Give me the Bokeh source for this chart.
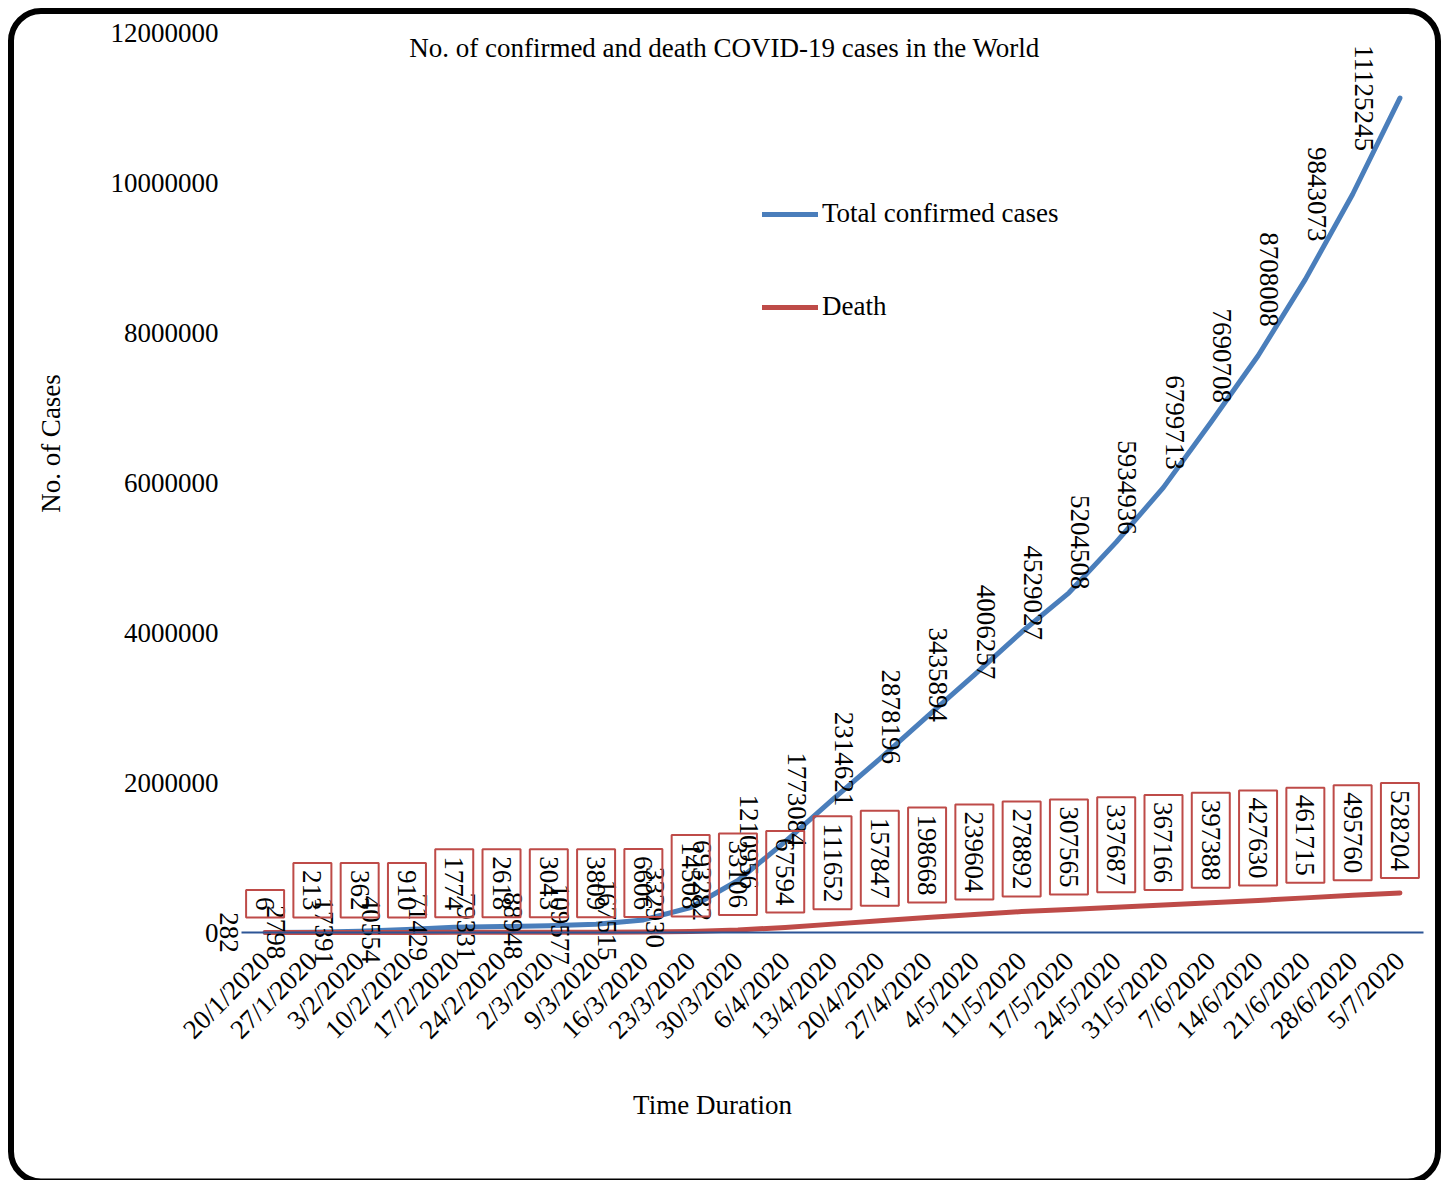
import math

from bokeh.core.properties import value
from bokeh.embed import file_html
from bokeh.models import (BasicTickFormatter, BoxAnnotation, ColumnDataSource, FixedTicker,
                          Label, Legend, LegendItem, LinearAxis, Range1d)
from bokeh.plotting import figure
from bokeh.resources import INLINE

# Weekly world totals
dates = ["20/1/2020", "27/1/2020", "3/2/2020", "10/2/2020", "17/2/2020", "24/2/2020",
         "2/3/2020", "9/3/2020", "16/3/2020", "23/3/2020", "30/3/2020", "6/4/2020",
         "13/4/2020", "20/4/2020", "27/4/2020", "4/5/2020", "11/5/2020", "17/5/2020",
         "24/5/2020", "31/5/2020", "7/6/2020", "14/6/2020", "21/6/2020", "28/6/2020",
         "5/7/2020"]
confirmed = [282, 2798, 17391, 40554, 71429, 79331, 88948, 109577, 167515, 332930,
             693282, 1210956, 1773084, 2314621, 2878196, 3435894, 4006257, 4529027,
             5204508, 5934936, 6799713, 7690708, 8708008, 9843073, 11125245]
deaths = [6, 213, 362, 910, 1774, 2618, 3043, 3809, 6606, 14508, 33106, 67594, 111652,
          157847, 198668, 239604, 278892, 307565, 337687, 367166, 397388, 427630, 461715,
          495760, 528204]
y_ticks = [0, 2000000, 4000000, 6000000, 8000000, 10000000, 12000000]

FONT = "Liberation Serif"
FS = "27px"
BLUE = "#4A7EBB"
RED = "#BE4B48"
AXIS_BLUE = "#2C5596"

W, H = 1445, 1180
idx = list(range(len(dates)))

src = ColumnDataSource(dict(
    i=idx,
    confirmed=confirmed,
    deaths=deaths,
    conf_txt=[str(v) for v in confirmed],
    death_txt=[str(v) for v in deaths],
))

# The frame fills the whole canvas; axes sit inside it at fixed locations
p = figure(width=W, height=H,
           x_range=Range1d(-5.596, 24.964), y_range=Range1d(-3306667, 12426667),
           x_axis_location=None, y_axis_location=None,
           output_backend="svg", toolbar_location=None,
           min_border=0)
p.grid.visible = False
p.outline_line_color = None
p.background_fill_color = "white"
p.border_fill_color = "white"

xa = LinearAxis(fixed_location=0, bounds=(-0.5, len(dates) - 0.5))
xa.ticker = FixedTicker(ticks=idx)
xa.major_label_overrides = {i: d for i, d in zip(idx, dates)}
xa.axis_line_color = AXIS_BLUE
xa.axis_line_width = 2
xa.major_tick_out = 0
xa.major_tick_in = 0
xa.minor_tick_out = 0
xa.minor_tick_in = 0
xa.major_label_orientation = math.pi / 4
xa.major_label_standoff = 24
xa.major_label_text_font = FONT
xa.major_label_text_font_size = FS
xa.major_label_text_color = "black"
p.add_layout(xa, "below")

ya = LinearAxis(fixed_location=-0.5)
ya.ticker = FixedTicker(ticks=y_ticks)
ya.formatter = BasicTickFormatter(use_scientific=False)
ya.axis_line_color = None
ya.major_tick_out = 0
ya.major_tick_in = 0
ya.minor_tick_out = 0
ya.minor_tick_in = 0
ya.major_label_standoff = 23
ya.major_label_text_font = FONT
ya.major_label_text_font_size = FS
ya.major_label_text_color = "black"
p.add_layout(ya, "left")

blue = p.line("i", "confirmed", source=src, line_color=BLUE, line_width=5,
              line_cap="round", line_join="round")
red = p.line("i", "deaths", source=src, line_color=RED, line_width=5,
             line_cap="round", line_join="round")

# value labels for confirmed cases, to the left of each point
p.text(x="i", y="confirmed", text="conf_txt", source=src, angle=-math.pi / 2,
       x_offset=-36, text_align="center", text_baseline="middle",
       text_font=value(FONT), text_font_size=FS, text_color="black")

# boxed value labels for deaths, above each point
p.text(x="i", y="deaths", text="death_txt", source=src, angle=-math.pi / 2,
       y_offset=-15, text_align="right", text_baseline="middle",
       text_font=value(FONT), text_font_size=FS, text_color="black",
       border_line_color=RED, border_line_width=2, padding=(7, 10))

legend = Legend(items=[LegendItem(label="Total confirmed cases", renderers=[blue]),
                       LegendItem(label="Death", renderers=[red])],
                location=(762, H - 322), orientation="vertical",
                glyph_width=56, glyph_height=30, label_height=30,
                label_standoff=4, spacing=62, padding=0, margin=0,
                border_line_alpha=0, background_fill_alpha=0,
                label_text_font=FONT, label_text_font_size=FS,
                label_text_color="black")
p.add_layout(legend)

p.add_layout(Label(x=724, y=H - 47, x_units="screen", y_units="screen",
                   text="No. of confirmed and death COVID-19 cases in the World",
                   text_align="center", text_baseline="middle",
                   text_font=FONT, text_font_size=FS, text_color="black"))
p.add_layout(Label(x=50, y=H - 443, x_units="screen", y_units="screen",
                   text="No. of Cases", angle=math.pi / 2,
                   text_align="center", text_baseline="middle",
                   text_font=FONT, text_font_size=FS, text_color="black"))
p.add_layout(Label(x=712, y=H - 1104, x_units="screen", y_units="screen",
                   text="Time Duration",
                   text_align="center", text_baseline="middle",
                   text_font=FONT, text_font_size=FS, text_color="black"))

# rounded outer frame, running off the bottom edge
p.add_layout(BoxAnnotation(left=10.5, right=1437.5, top=H - 10.5, bottom=H - 1181,
                           left_units="screen", right_units="screen",
                           top_units="screen", bottom_units="screen",
                           fill_alpha=0, line_color="black", line_alpha=1.0,
                           line_width=6, border_radius=30))

open("out.html", "w").write(file_html(p, INLINE))
